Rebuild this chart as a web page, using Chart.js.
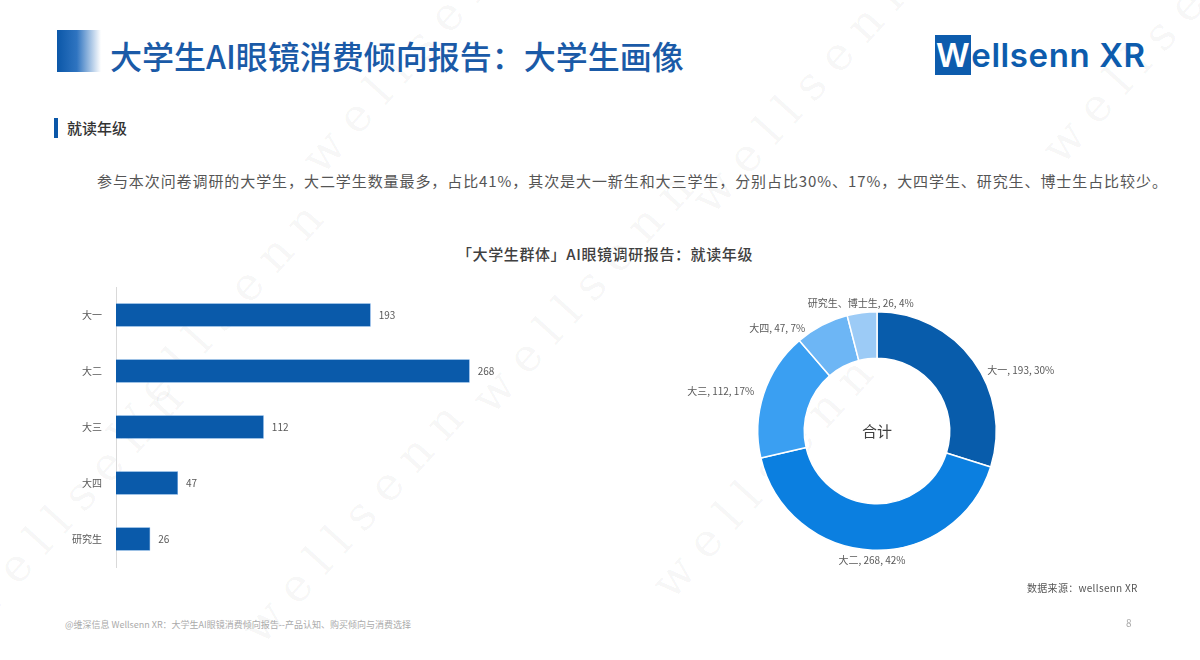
<!DOCTYPE html>
<html>
<head>
<meta charset="utf-8">
<script src="https://cdn.jsdelivr.net/npm/chart.js@4"></script>
<style>
  html, body { margin: 0; padding: 0; }
  body {
    width: 1200px; height: 660px; position: relative; overflow: hidden;
    background: #fff; font-family: "Noto Sans CJK SC", "Noto Sans", sans-serif;
  }
  .abs { position: absolute; white-space: nowrap; }
  .wm {
    position: absolute; font-family: "DejaVu Serif", "Liberation Serif", serif;
    font-size: 46px; letter-spacing: 14px; color: rgba(0,0,0,0.045);
    transform: rotate(-48deg); transform-origin: left bottom; white-space: nowrap;
  }
  #barBox { position: absolute; left: 60px; top: 275px; width: 500px; height: 304px; }
  #pieBox { position: absolute; left: 660px; top: 280px; width: 435px; height: 302px; }
</style>
</head>
<body>

<div class="wm" style="left:500px; top:370px;">wellsenn</div>
<div class="wm" style="left:680px; top:555px;">wellsenn</div>
<div class="wm" style="left:720px; top:170px;">wellsenn</div>
<div class="wm" style="left:270px; top:600px;">wellsenn</div>
<div class="wm" style="left:-10px; top:580px;">wellsenn</div>
<div class="wm" style="left:1070px; top:120px;">wellsenn</div>
<div class="wm" style="left:330px; top:130px;">wellsenn</div>
<div class="wm" style="left:130px; top:400px;">wellsenn</div>

<div class="abs" style="left:57px; top:30px; width:44px; height:42px; background:linear-gradient(90deg,#0b57a8 0%,#2f74c0 45%,rgba(255,255,255,0) 100%);"></div>
<div class="abs" style="left:110px; top:33px; font-size:32px; font-weight:500; color:#1a5aa7; line-height:44px;">大学生AI眼镜消费倾向报告：大学生画像</div>

<div class="abs" style="left:935px; top:33px; font-family:'Inter','Noto Sans',sans-serif; font-size:33px; font-weight:600; color:#0d5cad; line-height:44px; letter-spacing:0.6px;"><span style="background:#0d5cad; color:#fff; padding:0 1px;">W</span>ellsenn XR</div>

<div class="abs" style="left:54px; top:118px; width:4px; height:20px; background:#0b57a8;"></div>
<div class="abs" style="left:67px; top:116px; font-size:15px; font-weight:500; color:#333; line-height:24px;">就读年级</div>

<div class="abs" style="left:97px; top:170px; font-size:15px; color:#555; line-height:22px; letter-spacing:0.92px;">参与本次问卷调研的大学生，大二学生数量最多，占比41%，其次是大一新生和大三学生，分别占比30%、17%，大四学生、研究生、博士生占比较少。</div>

<div class="abs" style="left:0; width:1210px; top:243px; text-align:center; font-size:15px; font-weight:500; color:#404040; line-height:22px; letter-spacing:0.6px;">「大学生群体」AI眼镜调研报告：就读年级</div>

<div id="barBox"><canvas id="barChart"></canvas></div>
<div id="pieBox"><canvas id="pieChart"></canvas></div>

<div class="abs" style="left:1027px; top:580px; font-size:10px; color:#555; line-height:16px; letter-spacing:0.3px;">数据来源：wellsenn XR</div>
<div class="abs" style="left:65px; top:618px; font-size:9px; color:#aaa; line-height:14px;">@维深信息 Wellsenn XR：大学生AI眼镜消费倾向报告--产品认知、购买倾向与消费选择</div>
<div class="abs" style="left:1126px; top:616px; font-size:10px; color:#aaa; line-height:14px;">8</div>

<script>
const barLabels = ['大一', '大二', '大三', '大四', '研究生'];
const barValues = [193, 268, 112, 47, 26];

const pieLabels = ['大一', '大二', '大三', '大四', '研究生、博士生'];
const pieValues = [193, 268, 112, 47, 26];
const piePct = ['30%', '42%', '17%', '7%', '4%'];
const pieColors = ['#085cab', '#0b7fe0', '#3a9ff2', '#6db6f5', '#9ccbf6'];

const labelFont = '10px "Noto Sans CJK SC", sans-serif';
const labelColor = '#595959';

// bar value labels at the end of each bar
const barValuePlugin = {
    id: 'barValues',
    afterDatasetsDraw(chart) {
        const ctx = chart.ctx;
        const meta = chart.getDatasetMeta(0);
        ctx.save();
        ctx.font = labelFont;
        ctx.fillStyle = labelColor;
        ctx.textAlign = 'left';
        ctx.textBaseline = 'middle';
        meta.data.forEach((bar, i) => {
            ctx.fillText(String(barValues[i]), bar.x + 8, bar.y);
        });
        ctx.restore();
    }
};

// outside labels + center text for the doughnut
const pieLabelPlugin = {
    id: 'pieLabels',
    afterDatasetsDraw(chart) {
        const ctx = chart.ctx;
        const meta = chart.getDatasetMeta(0);
        ctx.save();
        ctx.font = labelFont;
        ctx.fillStyle = labelColor;
        ctx.textBaseline = 'middle';
        meta.data.forEach((arc, i) => {
            const a = (arc.startAngle + arc.endAngle) / 2;
            const r = arc.outerRadius + 10;
            let x = arc.x + Math.cos(a) * r;
            let y = arc.y + Math.sin(a) * r;
            if (x > arc.x + 25) {
                ctx.textAlign = 'left';
                y += 16;
                x += 6;
            } else if (x < arc.x - 25) {
                ctx.textAlign = 'right';
                if (y < arc.y - 90) { y += 12; x -= 12; }
            } else {
                ctx.textAlign = 'center';
            }
            ctx.fillText(`${pieLabels[i]}, ${pieValues[i]}, ${piePct[i]}`, x, y);
        });
        const c = meta.data[0];
        ctx.font = '15px "Noto Sans CJK SC", sans-serif';
        ctx.fillStyle = '#404040';
        ctx.textAlign = 'center';
        ctx.fillText('合计', c.x, c.y);
        ctx.restore();
    }
};

new Chart(document.getElementById('barChart'), {
    type: 'bar',
    data: {
        labels: barLabels,
        datasets: [{
            data: barValues,
            backgroundColor: '#0a5aaa',
            borderColor: '#5b9be0',
            borderWidth: 0.6,
            categoryPercentage: 1,
            barPercentage: 0.42
        }]
    },
    options: {
        indexAxis: 'y',
        responsive: true,
        maintainAspectRatio: false,
        animation: false,
        layout: { padding: { top: 2, bottom: 0, right: 48 } },
        plugins: { legend: { display: false }, tooltip: { enabled: false } },
        scales: {
            x: { display: false, min: 0, max: 300 },
            y: {
                grid: { display: false },
                border: { display: true, color: '#d9d9d9', width: 1 },
                ticks: { color: labelColor, font: { size: 10, family: '"Noto Sans CJK SC", sans-serif' }, padding: 6 },
                afterFit(scale) { scale.width = 56; }
            }
        }
    },
    plugins: [barValuePlugin]
});

new Chart(document.getElementById('pieChart'), {
    type: 'doughnut',
    data: {
        labels: pieLabels,
        datasets: [{
            data: pieValues,
            backgroundColor: pieColors,
            borderColor: '#ffffff',
            borderWidth: 1.5
        }]
    },
    options: {
        responsive: true,
        maintainAspectRatio: false,
        animation: false,
        cutout: '61%',
        layout: { padding: { left: 97, right: 98, top: 31, bottom: 31 } },
        plugins: { legend: { display: false }, tooltip: { enabled: false } }
    },
    plugins: [pieLabelPlugin]
});
</script>
</body>
</html>
